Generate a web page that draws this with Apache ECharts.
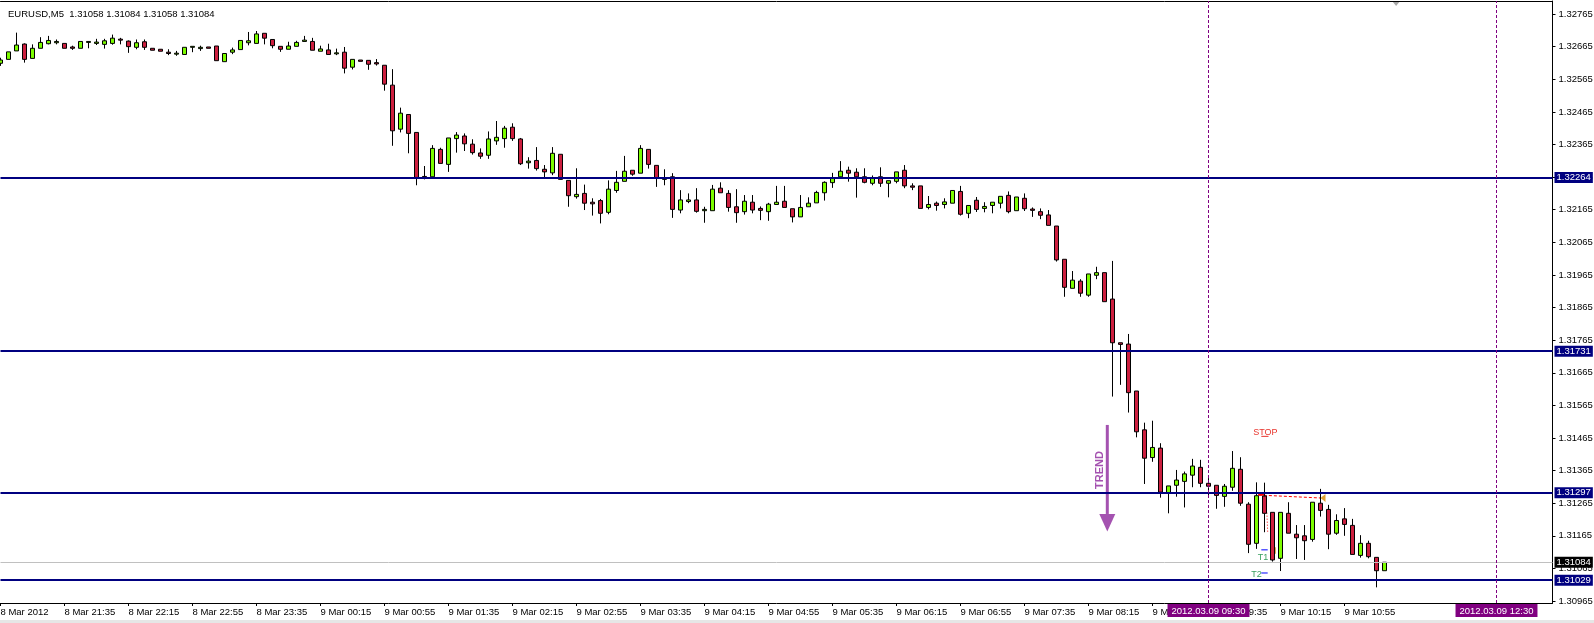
<!DOCTYPE html>
<html>
<head>
<meta charset="utf-8">
<title>EURUSD,M5</title>
<script src="https://cdn.jsdelivr.net/npm/echarts@6.0.0/dist/echarts.min.js"></script>
<style>
  html, body { margin: 0; padding: 0; background: #fff; }
  #chart { width: 1594px; height: 623px; }
</style>
</head>
<body>
<div id="chart"></div>
<script>
// EURUSD M5, 8 Mar 2012 20:55 -> 9 Mar 2012 11:20 (one value per bar)
const opens = [
  1.32614,1.32626,1.32652,1.32673,1.32629,1.32660,1.32674,1.32677,1.32675,1.32664,
  1.32660,1.32678,1.32675,1.32672,1.32675,1.32688,1.32682,1.32663,1.32680,1.32660,
  1.32657,1.32648,1.32642,1.32641,1.32663,1.32659,1.32664,1.32667,1.32619,1.32648,
  1.32656,1.32677,1.32675,1.32706,1.32687,1.32666,1.32657,1.32666,1.32681,1.32681,
  1.32651,1.32655,1.32643,1.32648,1.32602,1.32624,1.32623,1.32616,1.32608,1.32547,
  1.32412,1.32457,1.32402,1.32267,1.32266,1.32350,1.32304,1.32383,1.32391,1.32366,
  1.32339,1.32332,1.32376,1.32383,1.32418,1.32382,1.32309,1.32316,1.32289,1.32278,
  1.32335,1.32255,1.32205,1.32215,1.32188,1.32193,1.32157,1.32224,1.32252,1.32286,
  1.32277,1.32350,1.32301,1.32258,1.32266,1.32164,1.32190,1.32195,1.32162,1.32162,
  1.32231,1.32215,1.32174,1.32159,1.32188,1.32169,1.32159,1.32181,1.32191,1.32168,
  1.32143,1.32174,1.32186,1.32217,1.32248,1.32266,1.32286,1.32280,1.32266,1.32246,
  1.32266,1.32246,1.32252,1.32286,1.32238,1.32238,1.32172,1.32185,1.32181,1.32185,
  1.32221,1.32154,1.32194,1.32169,1.32178,1.32185,1.32209,1.32162,1.32200,1.32167,
  1.32159,1.32149,1.32115,1.32013,1.31924,1.31946,1.31903,1.31964,1.31972,1.31891,
  1.31757,1.31753,1.31609,1.31490,1.31405,1.31434,1.31297,1.31320,1.31332,1.31351,
  1.31375,1.31326,1.31320,1.31286,1.31314,1.31369,1.31262,1.31142,1.31287,1.31237,
  1.31096,1.31234,1.31170,1.31165,1.31154,1.31265,1.31246,1.31173,1.31217,1.31197,
  1.31105,1.31142,1.31099,1.31058
];
const highs = [
  1.32631,1.32649,1.32708,1.32675,1.32672,1.32694,1.32698,1.32687,1.32675,1.32668,
  1.32681,1.32681,1.32689,1.32689,1.32702,1.32692,1.32684,1.32687,1.32687,1.32660,
  1.32657,1.32657,1.32652,1.32663,1.32666,1.32668,1.32664,1.32667,1.32644,1.32662,
  1.32684,1.32710,1.32713,1.32706,1.32687,1.32666,1.32680,1.32683,1.32698,1.32692,
  1.32668,1.32674,1.32659,1.32664,1.32626,1.32624,1.32623,1.32627,1.32608,1.32596,
  1.32478,1.32457,1.32402,1.32299,1.32363,1.32355,1.32385,1.32403,1.32399,1.32381,
  1.32353,1.32405,1.32437,1.32422,1.32430,1.32385,1.32326,1.32357,1.32302,1.32357,
  1.32335,1.32255,1.32292,1.32242,1.32200,1.32198,1.32255,1.32284,1.32330,1.32286,
  1.32363,1.32350,1.32301,1.32289,1.32277,1.32225,1.32215,1.32231,1.32174,1.32241,
  1.32249,1.32225,1.32228,1.32210,1.32210,1.32175,1.32186,1.32238,1.32238,1.32168,
  1.32210,1.32203,1.32223,1.32252,1.32278,1.32314,1.32297,1.32292,1.32292,1.32270,
  1.32295,1.32254,1.32281,1.32302,1.32246,1.32238,1.32207,1.32190,1.32200,1.32224,
  1.32238,1.32178,1.32204,1.32188,1.32188,1.32206,1.32221,1.32204,1.32215,1.32172,
  1.32169,1.32164,1.32115,1.32013,1.31977,1.31952,1.31968,1.31990,1.31972,1.32008,
  1.31757,1.31784,1.31609,1.31512,1.31518,1.31449,1.31318,1.31367,1.31362,1.31401,
  1.31398,1.31342,1.31320,1.31324,1.31425,1.31406,1.31268,1.31329,1.31328,1.31237,
  1.31237,1.31268,1.31198,1.31198,1.31268,1.31309,1.31260,1.31231,1.31250,1.31217,
  1.31167,1.31150,1.31099,1.31084
];
const lows = [
  1.32606,1.32626,1.32652,1.32616,1.32629,1.32660,1.32672,1.32672,1.32660,1.32655,
  1.32660,1.32660,1.32670,1.32659,1.32671,1.32672,1.32646,1.32657,1.32655,1.32654,
  1.32651,1.32639,1.32637,1.32641,1.32648,1.32652,1.32660,1.32622,1.32619,1.32642,
  1.32656,1.32669,1.32675,1.32672,1.32660,1.32649,1.32657,1.32666,1.32681,1.32654,
  1.32651,1.32641,1.32639,1.32583,1.32595,1.32620,1.32594,1.32607,1.32530,1.32361,
  1.32402,1.32338,1.32240,1.32258,1.32266,1.32307,1.32281,1.32340,1.32345,1.32334,
  1.32321,1.32321,1.32364,1.32355,1.32376,1.32302,1.32291,1.32285,1.32260,1.32271,
  1.32258,1.32174,1.32199,1.32164,1.32147,1.32123,1.32151,1.32217,1.32252,1.32269,
  1.32277,1.32291,1.32235,1.32240,1.32140,1.32154,1.32185,1.32156,1.32125,1.32162,
  1.32217,1.32159,1.32125,1.32150,1.32154,1.32133,1.32131,1.32181,1.32172,1.32126,
  1.32143,1.32174,1.32186,1.32193,1.32232,1.32266,1.32251,1.32202,1.32246,1.32240,
  1.32235,1.32203,1.32246,1.32231,1.32225,1.32169,1.32166,1.32162,1.32169,1.32185,
  1.32147,1.32139,1.32158,1.32157,1.32154,1.32169,1.32154,1.32162,1.32161,1.32143,
  1.32136,1.32117,1.32006,1.31898,1.31924,1.31898,1.31898,1.31952,1.31883,1.31592,
  1.31628,1.31543,1.31467,1.31324,1.31392,1.31282,1.31234,1.31285,1.31252,1.31314,
  1.31314,1.31287,1.31248,1.31254,1.31303,1.31257,1.31112,1.31125,1.31176,1.31086,
  1.31057,1.31173,1.31094,1.31091,1.31147,1.31224,1.31124,1.31168,1.31165,1.31108,
  1.31098,1.31096,1.31007,1.31058
];
const closes = [
  1.32624,1.32649,1.32670,1.32626,1.32660,1.32678,1.32684,1.32681,1.32660,1.32660,
  1.32681,1.32681,1.32679,1.32683,1.32691,1.32685,1.32665,1.32677,1.32663,1.32654,
  1.32651,1.32644,1.32645,1.32663,1.32666,1.32663,1.32660,1.32622,1.32644,1.32655,
  1.32684,1.32683,1.32704,1.32691,1.32668,1.32657,1.32667,1.32678,1.32685,1.32654,
  1.32658,1.32641,1.32646,1.32599,1.32626,1.32620,1.32611,1.32612,1.32550,1.32407,
  1.32461,1.32399,1.32264,1.32263,1.32353,1.32307,1.32385,1.32394,1.32367,1.32340,
  1.32329,1.32382,1.32387,1.32415,1.32383,1.32306,1.32314,1.32291,1.32281,1.32338,
  1.32258,1.32208,1.32212,1.32185,1.32183,1.32154,1.32228,1.32249,1.32283,1.32274,
  1.32353,1.32304,1.32261,1.32263,1.32166,1.32195,1.32195,1.32160,1.32166,1.32228,
  1.32217,1.32172,1.32156,1.32191,1.32164,1.32163,1.32182,1.32188,1.32172,1.32143,
  1.32172,1.32185,1.32218,1.32249,1.32263,1.32283,1.32277,1.32266,1.32249,1.32261,
  1.32246,1.32254,1.32281,1.32238,1.32234,1.32169,1.32181,1.32178,1.32189,1.32224,
  1.32151,1.32178,1.32166,1.32175,1.32188,1.32206,1.32159,1.32204,1.32168,1.32163,
  1.32148,1.32117,1.32011,1.31927,1.31949,1.31909,1.31968,1.31972,1.31883,1.31757,
  1.31752,1.31604,1.31484,1.31403,1.31436,1.31299,1.31318,1.31336,1.31355,1.31379,
  1.31326,1.31317,1.31289,1.31317,1.31372,1.31265,1.31139,1.31288,1.31234,1.31091,
  1.31237,1.31173,1.31159,1.31150,1.31268,1.31243,1.31170,1.31212,1.31200,1.31108,
  1.31142,1.31101,1.31058,1.31084
];

// horizontal levels drawn on the chart, current bid, vertical time markers
const levels = [1.32264, 1.31731, 1.31297, 1.31029];
const lastPrice = 1.31084;
const markTimes = ['2012.03.09 09:30', '2012.03.09 12:30'];

// price scale tick labels
const priceTicks = [
  1.30965, 1.31065, 1.31165, 1.31265, 1.31365, 1.31465, 1.31565, 1.31665, 1.31765,
  1.31865, 1.31965, 1.32065, 1.32165, 1.32265, 1.32365, 1.32465, 1.32565, 1.32665, 1.32765
];

// time slots: bars plus empty chart shift on the right
const startTime = Date.UTC(2012, 2, 8, 20, 55);
const slotCount = 195;
const pad = n => (n < 10 ? '0' : '') + n;
const times = [];
for (let i = 0; i < slotCount; i++) {
  const d = new Date(startTime + i * 5 * 60000);
  times.push(d.getUTCFullYear() + '.' + pad(d.getUTCMonth() + 1) + '.' + pad(d.getUTCDate()) +
    ' ' + pad(d.getUTCHours()) + ':' + pad(d.getUTCMinutes()));
}

const FONT = '"Liberation Sans", Arial, sans-serif';
const labelAt = i => i % 8 === 0 && i < opens.length;
const fmtTime = (v, i) => {
  if (i === 0) return '8 Mar 2012';
  const day = parseInt(v.slice(8, 10), 10);
  return day + ' Mar ' + v.slice(11);
};

const candles = opens.map((o, i) => [o, closes[i], lows[i], highs[i]]);

const boxLabel = bg => ({
  show: true,
  position: 'end',
  distance: 2,
  formatter: p => Number(p.value).toFixed(5),
  color: '#fff',
  backgroundColor: bg,
  padding: [1, 2, 0, 2],
  fontFamily: FONT,
  fontSize: 9.5
});

const chart = echarts.init(document.getElementById('chart'));

chart.setOption({
  animation: false,
  backgroundColor: '#fff',
  title: {
    text: 'EURUSD,M5  1.31058 1.31084 1.31058 1.31084',
    left: 3, top: 4,
    textStyle: { fontFamily: FONT, fontSize: 9.5, fontWeight: 'normal', color: '#000' }
  },
  grid: { left: 0.5, right: 41.5, top: 1, bottom: 20, containLabel: false, outerBoundsMode: 'none' },
  xAxis: [{
    type: 'category',
    data: times,
    boundaryGap: false,
    axisLine: { lineStyle: { color: '#000', width: 1 } },
    axisTick: { interval: labelAt, length: 3, lineStyle: { color: '#000' } },
    axisLabel: {
      interval: labelAt, align: 'left', margin: 4, color: '#000',
      fontFamily: FONT, fontSize: 9.5, formatter: fmtTime
    },
    splitLine: { show: false }
  }, {
    type: 'category',
    data: times,
    position: 'top',
    boundaryGap: false,
    axisLine: { lineStyle: { color: '#000', width: 1 } },
    axisTick: { show: false },
    axisLabel: { show: false }
  }],
  yAxis: {
    type: 'value',
    position: 'right',
    min: 1.30959,
    max: 1.32805,
    axisLine: { show: true, lineStyle: { color: '#000' } },
    axisTick: { show: true, customValues: priceTicks, length: 3, lineStyle: { color: '#000' } },
    axisLabel: {
      customValues: priceTicks, formatter: v => v.toFixed(5), margin: 6,
      color: '#000', fontFamily: FONT, fontSize: 9.5
    },
    splitLine: { show: false }
  },
  series: [{
    type: 'candlestick',
    data: candles,
    barWidth: 4,
    itemStyle: {
      color: '#7CFC00',
      color0: '#CC1F3F',
      borderColor: '#000',
      borderColor0: '#000',
      borderColorDoji: '#000',
      borderWidth: 1
    },
    markLine: {
      silent: true,
      symbol: 'none',
      animation: false,
      precision: 5,
      data: [
        { yAxis: lastPrice, lineStyle: { color: '#C0C0C0', width: 1, type: 'solid' }, label: boxLabel('#000') },
        ...levels.map(v => ({ yAxis: v, lineStyle: { color: '#000080', width: 2, type: 'solid' }, label: boxLabel('#000080') })),
        ...markTimes.map(t => ({
          xAxis: t,
          lineStyle: { color: '#800080', width: 1, type: [3, 2] },
          label: {
            show: true, position: 'start', distance: 1, formatter: t,
            color: '#fff', backgroundColor: '#800080', padding: [2, 4, 1, 4],
            fontFamily: FONT, fontSize: 9.5
          }
        }))
      ]
    }
  }]
});

// chart objects (trend arrow, trade labels) anchored to bar index / price
function pt(idx, price) {
  const i0 = Math.floor(idx), f = idx - i0;
  const a = chart.convertToPixel({ seriesIndex: 0 }, [i0, price]);
  const b = chart.convertToPixel({ seriesIndex: 0 }, [i0 + 1, price]);
  return [a[0] + (b[0] - a[0]) * f, a[1]];
}

const PURPLE = '#A452B0';
const shaftTop = pt(138.35, 1.31505);
const headBase = pt(138.35, 1.31232);
const headTip = pt(138.35, 1.31178);
const trendText = pt(137.4, 1.31367);
const stopText = pt(158.1, 1.31483);
const stopMark = [pt(157.6, 1.31470), pt(158.5, 1.31470)];
const t1Text = pt(157.8, 1.31100);
const t2Text = pt(157.0, 1.31045);
const t1Mark = [pt(157.6, 1.31122), pt(158.4, 1.31122)];
const t2Mark = [pt(157.6, 1.31051), pt(158.4, 1.31051)];
const orangeTick = [pt(159.3, 1.31130), pt(159.3, 1.31110)];
const tradeLine = [pt(157.3, 1.31290), pt(165.0, 1.31281)];
const tradeStart = [pt(157.2, 1.31291), pt(158.0, 1.31291)];
const tradeDrop = [pt(158.3, 1.31236), pt(158.4, 1.31176)];
const shiftMark = pt(174.45, 1.32805);
const H = chart.getHeight();

const seg = (p, style) => ({
  type: 'line', silent: true,
  shape: { x1: p[0][0], y1: p[0][1], x2: p[1][0], y2: p[1][1] },
  style: style
});

chart.setOption({
  graphic: [
    { type: 'rect', silent: true, shape: { x: 0, y: H - 3, width: chart.getWidth(), height: 3 }, style: { fill: '#E6E6E6' } },
    { type: 'polygon', silent: true,
      shape: { points: [[shiftMark[0] - 4, 1], [shiftMark[0] + 4, 1], [shiftMark[0], 6]] },
      style: { fill: '#A8A8A8' } },
    seg([shaftTop, headBase], { stroke: PURPLE, lineWidth: 3 }),
    { type: 'polygon', silent: true,
      shape: { points: [[headBase[0] - 8, headBase[1]], [headBase[0] + 8, headBase[1]], [headTip[0], headTip[1]]] },
      style: { fill: PURPLE } },
    { type: 'text', silent: true, x: trendText[0], y: trendText[1], rotation: Math.PI / 2,
      style: { text: 'TREND', fill: PURPLE, font: 'bold 11px ' + FONT, align: 'center', verticalAlign: 'middle' } },
    { type: 'text', silent: true, x: stopText[0], y: stopText[1],
      style: { text: 'STOP', fill: '#E8342C', font: '9px ' + FONT, align: 'center', verticalAlign: 'middle' } },
    seg(stopMark, { stroke: '#E8342C', lineWidth: 1 }),
    { type: 'text', silent: true, x: t1Text[0], y: t1Text[1],
      style: { text: 'T1', fill: '#3AA060', font: '9px ' + FONT, align: 'center', verticalAlign: 'middle' } },
    { type: 'text', silent: true, x: t2Text[0], y: t2Text[1],
      style: { text: 'T2', fill: '#3AA060', font: '9px ' + FONT, align: 'center', verticalAlign: 'middle' } },
    seg(t1Mark, { stroke: '#0000FF', lineWidth: 1 }),
    seg(t2Mark, { stroke: '#0000FF', lineWidth: 1 }),
    seg(orangeTick, { stroke: '#D8A040', lineWidth: 2 }),
    seg(tradeLine, { stroke: '#FF0000', lineWidth: 1, lineDash: [3, 2] }),
    seg(tradeStart, { stroke: '#FF0000', lineWidth: 2 }),
    seg(tradeDrop, { stroke: '#FF0000', lineWidth: 1, lineDash: [1, 2] }),
    { type: 'polygon', silent: true,
      shape: { points: [[tradeLine[1][0], tradeLine[1][1]], [tradeLine[1][0] + 5, tradeLine[1][1] - 4], [tradeLine[1][0] + 5, tradeLine[1][1] + 4]] },
      style: { fill: '#E0A030' } }
  ]
});
</script>
</body>
</html>
